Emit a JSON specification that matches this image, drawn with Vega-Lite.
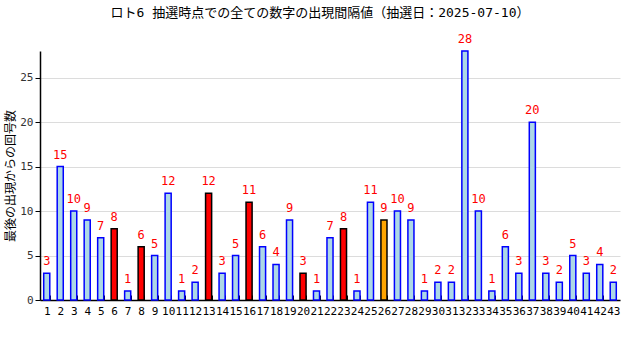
{
  "$schema": "https://vega.github.io/schema/vega-lite/v6.json",
  "width": 580,
  "height": 249,
  "autosize": {"type": "none"},
  "padding": {"left": 40, "top": 51, "right": 20, "bottom": 60},
  "background": "white",
  "title": {
    "text": "ロト6 抽選時点での全ての数字の出現間隔値（抽選日：2025-07-10）",
    "font": "DejaVu Sans Mono, Noto Sans CJK JP",
    "fontSize": 13,
    "fontWeight": "normal",
    "color": "black",
    "anchor": "middle",
    "frame": "group",
    "dx": -10,
    "offset": 13
  },
  "data": {
    "values": [
      {"num": 1, "gap": 3, "type": "normal"},
      {"num": 2, "gap": 15, "type": "normal"},
      {"num": 3, "gap": 10, "type": "normal"},
      {"num": 4, "gap": 9, "type": "normal"},
      {"num": 5, "gap": 7, "type": "normal"},
      {"num": 6, "gap": 8, "type": "red"},
      {"num": 7, "gap": 1, "type": "normal"},
      {"num": 8, "gap": 6, "type": "red"},
      {"num": 9, "gap": 5, "type": "normal"},
      {"num": 10, "gap": 12, "type": "normal"},
      {"num": 11, "gap": 1, "type": "normal"},
      {"num": 12, "gap": 2, "type": "normal"},
      {"num": 13, "gap": 12, "type": "red"},
      {"num": 14, "gap": 3, "type": "normal"},
      {"num": 15, "gap": 5, "type": "normal"},
      {"num": 16, "gap": 11, "type": "red"},
      {"num": 17, "gap": 6, "type": "normal"},
      {"num": 18, "gap": 4, "type": "normal"},
      {"num": 19, "gap": 9, "type": "normal"},
      {"num": 20, "gap": 3, "type": "red"},
      {"num": 21, "gap": 1, "type": "normal"},
      {"num": 22, "gap": 7, "type": "normal"},
      {"num": 23, "gap": 8, "type": "red"},
      {"num": 24, "gap": 1, "type": "normal"},
      {"num": 25, "gap": 11, "type": "normal"},
      {"num": 26, "gap": 9, "type": "orange"},
      {"num": 27, "gap": 10, "type": "normal"},
      {"num": 28, "gap": 9, "type": "normal"},
      {"num": 29, "gap": 1, "type": "normal"},
      {"num": 30, "gap": 2, "type": "normal"},
      {"num": 31, "gap": 2, "type": "normal"},
      {"num": 32, "gap": 28, "type": "normal"},
      {"num": 33, "gap": 10, "type": "normal"},
      {"num": 34, "gap": 1, "type": "normal"},
      {"num": 35, "gap": 6, "type": "normal"},
      {"num": 36, "gap": 3, "type": "normal"},
      {"num": 37, "gap": 20, "type": "normal"},
      {"num": 38, "gap": 3, "type": "normal"},
      {"num": 39, "gap": 2, "type": "normal"},
      {"num": 40, "gap": 5, "type": "normal"},
      {"num": 41, "gap": 3, "type": "normal"},
      {"num": 42, "gap": 4, "type": "normal"},
      {"num": 43, "gap": 2, "type": "normal"}
    ]
  },
  "encoding": {
    "x": {
      "field": "num",
      "type": "ordinal",
      "sort": null,
      "scale": {"paddingInner": 0.55, "paddingOuter": 0.275},
      "axis": {
        "title": null,
        "labelAngle": 0,
        "labelFont": "DejaVu Sans Mono",
        "labelFontSize": 11,
        "labelColor": "black",
        "labelPadding": 10,
        "tickBand": "extent",
        "tickSize": -5,
        "tickColor": "black",
        "domainColor": "black",
        "domainWidth": 1.5,
        "grid": false
      }
    },
    "y": {
      "field": "gap",
      "type": "quantitative",
      "scale": {"domain": [0, 28], "nice": false},
      "axis": {
        "title": "最後の出現からの回号数",
        "titleFont": "Noto Sans CJK JP",
        "titleFontSize": 12,
        "titleFontWeight": "normal",
        "titleColor": "black",
        "titlePadding": 2,
        "values": [0, 5, 10, 15, 20, 25],
        "labelFont": "DejaVu Sans Mono",
        "labelFontSize": 11,
        "labelColor": "#333333",
        "labelPadding": 2,
        "tickSize": 5,
        "tickColor": "black",
        "domainColor": "black",
        "domainWidth": 1.5,
        "grid": true,
        "gridColor": "#dcdcdc",
        "gridWidth": 1
      }
    }
  },
  "layer": [
    {
      "mark": {"type": "bar", "strokeWidth": 1.5},
      "encoding": {
        "fill": {
          "field": "type",
          "type": "nominal",
          "scale": {"domain": ["normal", "red", "orange"], "range": ["#add8e6", "#ff0000", "#ffa500"]},
          "legend": null
        },
        "stroke": {
          "field": "type",
          "type": "nominal",
          "scale": {"domain": ["normal", "red", "orange"], "range": ["#0000ff", "#000000", "#000000"]},
          "legend": null
        }
      }
    },
    {
      "mark": {"type": "text", "baseline": "bottom", "dy": -5, "color": "#ff0000", "font": "DejaVu Sans Mono", "fontSize": 12},
      "encoding": {"text": {"field": "gap", "type": "quantitative"}}
    }
  ],
  "config": {"view": {"stroke": null}}
}
